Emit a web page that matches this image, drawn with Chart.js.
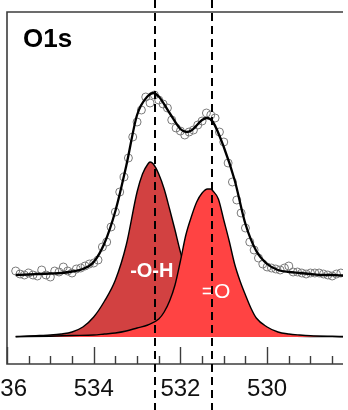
<!DOCTYPE html>
<html>
<head>
<meta charset="utf-8">
<script src="https://cdn.jsdelivr.net/npm/chart.js@4.4.1/dist/chart.umd.min.js"></script>
<style>
  html, body { margin: 0; padding: 0; background: #fff; }
  #wrap { width: 348px; height: 410px; }
</style>
</head>
<body>
<div id="wrap"><canvas id="o1s" width="348" height="410"></canvas></div>
<script>
// binding energy (eV) of the measured points
const pointEnergy = [535.8, 535.7, 535.6, 535.5, 535.4, 535.3, 535.2, 535.1, 535.0, 534.9,
  534.8, 534.7, 534.6, 534.5, 534.4, 534.3, 534.2, 534.1, 534.0, 533.9,
  533.8, 533.7, 533.6, 533.5, 533.4, 533.3, 533.2, 533.1, 533.0, 532.9,
  532.8, 532.7, 532.6, 532.5, 532.4, 532.3, 532.2, 532.1, 532.0, 531.9,
  531.8, 531.7, 531.6, 531.5, 531.4, 531.3, 531.2, 531.1, 531.0, 530.9,
  530.8, 530.7, 530.6, 530.5, 530.4, 530.3, 530.2, 530.1, 530.0, 529.9,
  529.8, 529.7, 529.6, 529.5, 529.4, 529.3, 529.2, 529.1, 529.0, 528.9,
  528.8, 528.7, 528.6, 528.5, 528.4, 528.3];
const pointCounts = [66, 63, 62, 64, 62, 61, 67, 62, 60, 66,
  65, 70, 66, 64, 68, 69, 71, 73, 74, 77,
  90, 95, 110, 125, 145, 160, 179, 200, 215, 227,
  240, 234, 242, 237, 233, 229, 217, 209, 206, 202,
  205, 207, 212, 216, 224, 222, 219, 205, 195, 174,
  155, 137, 124, 109, 95, 87, 79, 73, 70, 69,
  68, 67, 69, 71, 65, 65, 64, 63, 64, 64,
  64, 63, 62, 61, 63, 64];

// fitted envelope
const envEnergy = [535.8, 535.5, 535.25, 535.0, 534.75, 534.5, 534.25, 534.0, 533.75, 533.5,
  533.25, 533.0, 532.75, 532.625, 532.5, 532.25, 532.0, 531.86, 531.75, 531.5,
  531.39, 531.25, 531.0, 530.75, 530.5, 530.25, 530.0, 529.75, 529.5, 529.25,
  529.0, 528.75, 528.5, 528.25];
const envCounts = [62, 62.5, 63, 63.5, 64, 65.5, 68, 75, 94, 126,
  171, 222, 241, 244, 240.5, 224, 208, 205, 206.5, 217,
  219, 215, 190, 157, 113, 86, 73, 67, 65, 64,
  63, 62, 62, 61.5];

// component -O-H
const ohEnergy = [535.8, 535.5, 535.25, 535.0, 534.75, 534.5, 534.25, 534.0, 533.75, 533.5,
  533.25, 533.0, 532.875, 532.75, 532.7, 532.625, 532.5, 532.375, 532.25, 532.125,
  532.0, 531.75, 531.5, 531.25, 531.0, 530.75, 530.5, 530.0, 529.5, 529.0, 528.25];
const ohCounts = [0.5, 1, 1.5, 2, 3, 5, 10, 20, 36, 57,
  92, 145, 163, 173, 175, 173, 163, 148, 128, 107,
  85, 48, 26, 14, 8, 5, 3, 1.5, 1, 0.5, 0.3];

// component =O
const oxEnergy = [535.8, 535.0, 534.5, 534.0, 533.75, 533.5, 533.25, 533.0, 532.75, 532.5,
  532.375, 532.25, 532.125, 532.0, 531.875, 531.75, 531.625, 531.5, 531.375, 531.3,
  531.25, 531.125, 531.0, 530.875, 530.75, 530.625, 530.5, 530.375, 530.25, 530.0,
  529.75, 529.5, 529.25, 529.0, 528.5, 528.25];
const oxCounts = [0.3, 0.8, 1.5, 2, 3, 4, 6, 9, 12, 18,
  25, 36, 52, 76, 102, 120, 135, 144, 148, 148,
  146, 138, 117, 96, 73, 56, 42, 29, 19, 10,
  5, 3, 2, 1.3, 0.7, 0.5];

const tickLabels = [536, 534, 532, 530];
const peakLines = [532.59, 531.27];
const peakNames = ['-O-H', '=O'];

const FONT = "'Liberation Sans', Arial, sans-serif";

function pairs(xs, ys) {
  return xs.map((e, i) => ({x: e, y: ys[i]}));
}

const decor = {
  id: 'decor',
  afterDraw(chart) {
    const ctx = chart.ctx;
    const a = chart.chartArea;
    const x = chart.scales.x;
    const y = chart.scales.y;
    ctx.save();

    // frame
    ctx.strokeStyle = '#3c3c3c';
    ctx.lineWidth = 1.6;
    ctx.beginPath();
    ctx.moveTo(a.right, a.top);
    ctx.lineTo(a.left, a.top);
    ctx.lineTo(a.left, a.bottom);
    ctx.lineTo(a.right, a.bottom);
    ctx.stroke();

    // inward ticks, every 0.5 eV
    ctx.lineWidth = 1.4;
    for (let v = 536; v >= x.min; v -= 0.5) {
      const px = Math.round(x.getPixelForValue(v)) + 0.5;
      const len = tickLabels.includes(v) ? 17 : 8;
      ctx.beginPath();
      ctx.moveTo(px, a.bottom);
      ctx.lineTo(px, a.bottom - len);
      ctx.stroke();
    }

    // title
    ctx.fillStyle = '#000';
    ctx.font = 'bold 26px ' + FONT;
    ctx.textAlign = 'left';
    ctx.textBaseline = 'alphabetic';
    ctx.fillText('O1s', a.left + 16, a.top + 35);

    // component labels
    ctx.fillStyle = '#fff';
    ctx.textAlign = 'center';
    ctx.textBaseline = 'middle';
    ctx.font = 'bold 20px ' + FONT;
    ctx.fillText(peakNames[0], x.getPixelForValue(532.66), y.getPixelForValue(66));
    ctx.font = '21px ' + FONT;
    ctx.fillText(peakNames[1], x.getPixelForValue(531.18), y.getPixelForValue(45));

    // dashed peak positions, across the whole figure
    ctx.strokeStyle = '#000';
    ctx.lineWidth = 2;
    ctx.setLineDash([8, 5]);
    peakLines.forEach(v => {
      const px = Math.round(x.getPixelForValue(v));
      ctx.beginPath();
      ctx.moveTo(px, 0);
      ctx.lineTo(px, chart.height);
      ctx.stroke();
    });
    ctx.restore();
  }
};

new Chart(document.getElementById('o1s'), {
  type: 'line',
  data: {
    datasets: [
      {
        label: 'fit',
        data: pairs(envEnergy, envCounts),
        borderColor: '#000',
        borderWidth: 2.3,
        pointRadius: 0,
        fill: false,
        cubicInterpolationMode: 'monotone'
      },
      {
        label: 'data',
        data: pairs(pointEnergy, pointCounts),
        showLine: false,
        pointStyle: 'circle',
        pointRadius: 4,
        pointBorderWidth: 1,
        pointBorderColor: '#7a7a7a',
        pointBackgroundColor: 'rgba(0,0,0,0)'
      },
      {
        label: '=O',
        data: pairs(oxEnergy, oxCounts),
        borderColor: '#000',
        borderWidth: 1.4,
        backgroundColor: '#ff4343',
        pointRadius: 0,
        fill: 'origin',
        cubicInterpolationMode: 'monotone'
      },
      {
        label: '-O-H',
        data: pairs(ohEnergy, ohCounts),
        borderColor: '#000',
        borderWidth: 1.4,
        backgroundColor: '#d24141',
        pointRadius: 0,
        fill: 'origin',
        cubicInterpolationMode: 'monotone'
      }
    ]
  },
  options: {
    responsive: false,
    animation: false,
    devicePixelRatio: 1,
    layout: { padding: { left: 7, top: 12, right: 0, bottom: 0 } },
    plugins: {
      legend: { display: false },
      tooltip: { enabled: false }
    },
    scales: {
      x: {
        type: 'linear',
        reverse: true,
        min: 528.25,
        max: 536,
        grid: { display: false, drawTicks: false },
        border: { display: false },
        ticks: {
          padding: 11,
          color: '#111',
          font: { family: FONT, size: 24 },
          maxRotation: 0
        },
        afterBuildTicks: s => { s.ticks = tickLabels.map(v => ({value: v})); },
        afterFit: s => { s.paddingLeft = 0; s.paddingRight = 0; s.height = 46; }
      },
      y: {
        display: false,
        min: -27,
        max: 325
      }
    }
  },
  plugins: [decor]
});
</script>
</body>
</html>
